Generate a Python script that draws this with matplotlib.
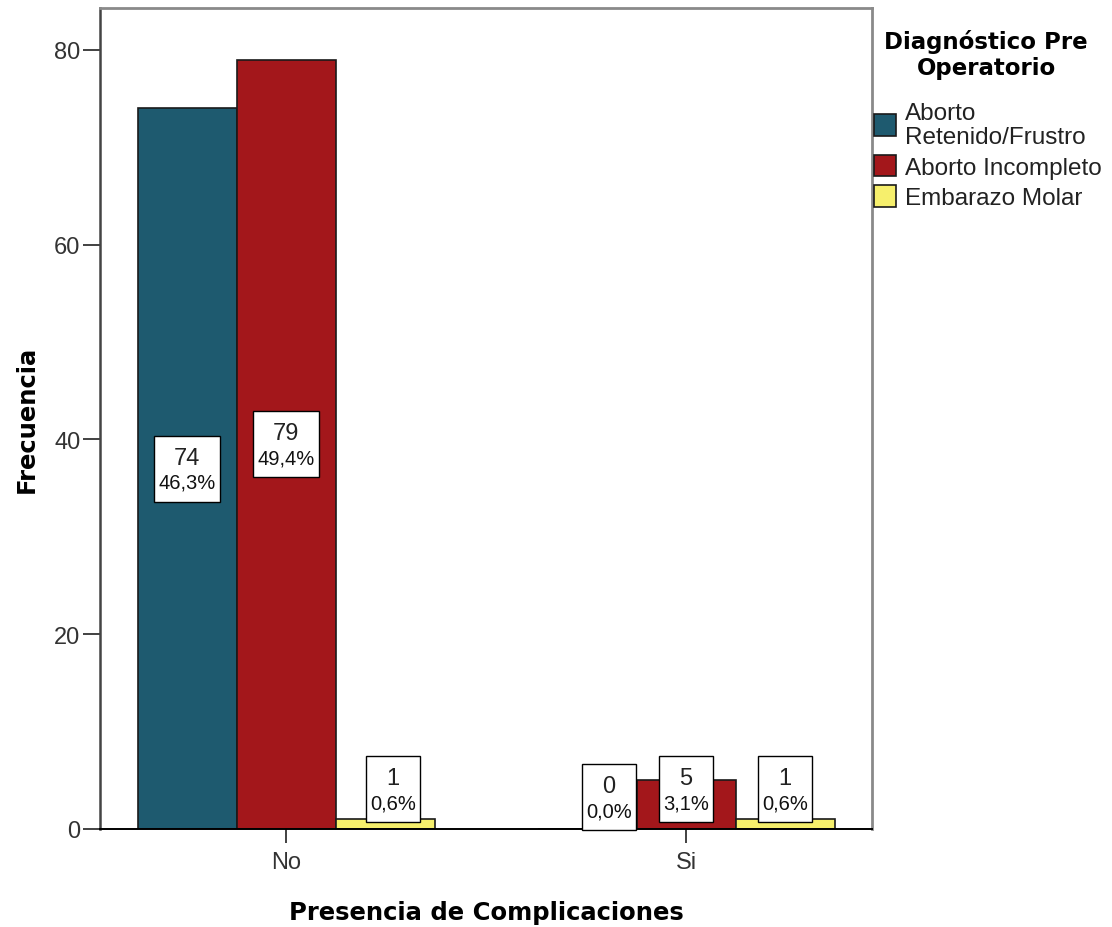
import numpy as np
import matplotlib.pyplot as plt
from matplotlib.offsetbox import TextArea, VPacker, DrawingArea, AnnotationBbox

plt.rcParams['font.family'] = ['Liberation Sans', 'DejaVu Sans']

# frecuencias por diagnostico y presencia de complicaciones
categorias = ["No", "Si"]
diagnosticos = ["Aborto\nRetenido/Frustro", "Aborto Incompleto", "Embarazo Molar"]
frecuencias = [
    [74, 0],   # Aborto Retenido/Frustro
    [79, 5],   # Aborto Incompleto
    [1, 1],    # Embarazo Molar
]
porcentajes = [
    ["46,3%", "0,0%"],
    ["49,4%", "3,1%"],
    ["0,6%", "0,6%"],
]
colores = ["#1e5a6f", "#a3171b", "#f6ef6c"]


def etiqueta(ax, x, y, n, pct):
    # caja blanca con la frecuencia y el porcentaje
    caja = VPacker(children=[
        DrawingArea(0, 2),
        TextArea(str(n), textprops=dict(fontsize=17, color="#222222")),
        TextArea(pct, textprops=dict(fontsize=14.5, color="#111111")),
        DrawingArea(0, 1),
    ], align="center", pad=0, sep=3)
    ab = AnnotationBbox(caja, (x, y), frameon=True, pad=0.3,
                        bboxprops=dict(fc="white", ec="black", lw=1.0),
                        zorder=5)
    ax.add_artist(ab)


def main():
    fig = plt.figure(figsize=(11.12, 9.28), dpi=100)
    ax = fig.add_axes([100 / 1112, 98 / 928, 772 / 1112, 821 / 928])

    x = np.arange(len(categorias))
    ancho = 0.2475
    # pequeños desplazamientos para que las cajas no se pisen
    ajuste_x = [[0, 0.055], [0, 0], [0.02, 0]]

    for i, (nombre, vals) in enumerate(zip(diagnosticos, frecuencias)):
        pos = x + (i - 1) * ancho
        ax.bar(pos, vals, width=ancho, color=colores[i], edgecolor="#1a1a1a",
               linewidth=1.2, label=nombre, zorder=2)
        for j, v in enumerate(vals):
            yc = v / 2 if v > 10 else (3.3 if v == 0 else 4.1)
            etiqueta(ax, pos[j] + ajuste_x[i][j], yc, v, porcentajes[i][j])

    ax.set_xlim(-0.465, 1.465)
    ax.set_ylim(0, 84.3)
    ax.set_xticks(x)
    ax.set_xticklabels(categorias, fontsize=17, color="#333333")
    ax.set_yticks([0, 20, 40, 60, 80])
    ax.tick_params(axis="y", labelsize=17, labelcolor="#333333", length=12.5,
                   width=1.3, pad=1.5, color="#333333")
    ax.tick_params(axis="x", length=10, width=1.3, pad=6, color="#333333")

    for lado in ["top", "right"]:
        ax.spines[lado].set_color("#8a8a8a")
        ax.spines[lado].set_linewidth(2)
    ax.spines["left"].set_color("#444444")
    ax.spines["left"].set_linewidth(1.8)
    ax.spines["bottom"].set_color("black")
    ax.spines["bottom"].set_linewidth(1.4)

    ax.set_xlabel("Presencia de Complicaciones", fontsize=17.5,
                  fontweight="bold", family="DejaVu Sans", labelpad=19)
    ax.set_ylabel("Frecuencia", fontsize=17.5, fontweight="bold",
                  family="DejaVu Sans", labelpad=11)

    # titulo de la leyenda
    fig.text(986 / 1112, 1 - 55 / 928, "Diagnóstico Pre\nOperatorio",
             ha="center", va="center", multialignment="center",
             family="DejaVu Sans", fontweight="bold", fontsize=16.5,
             linespacing=1.13)

    leg = ax.legend(loc="upper left", bbox_to_anchor=(1.0, 0.889),
                    frameon=False, fontsize=17.5, handlelength=0.9,
                    handleheight=1.0, handletextpad=0.35, labelspacing=0.27,
                    borderaxespad=0, borderpad=0.1)
    for t in leg.get_texts():
        t.set_color("#222222")
        t.set_linespacing(1.14)

    fig.savefig("out.png", dpi=100, facecolor="white")


if __name__ == "__main__":
    main()
